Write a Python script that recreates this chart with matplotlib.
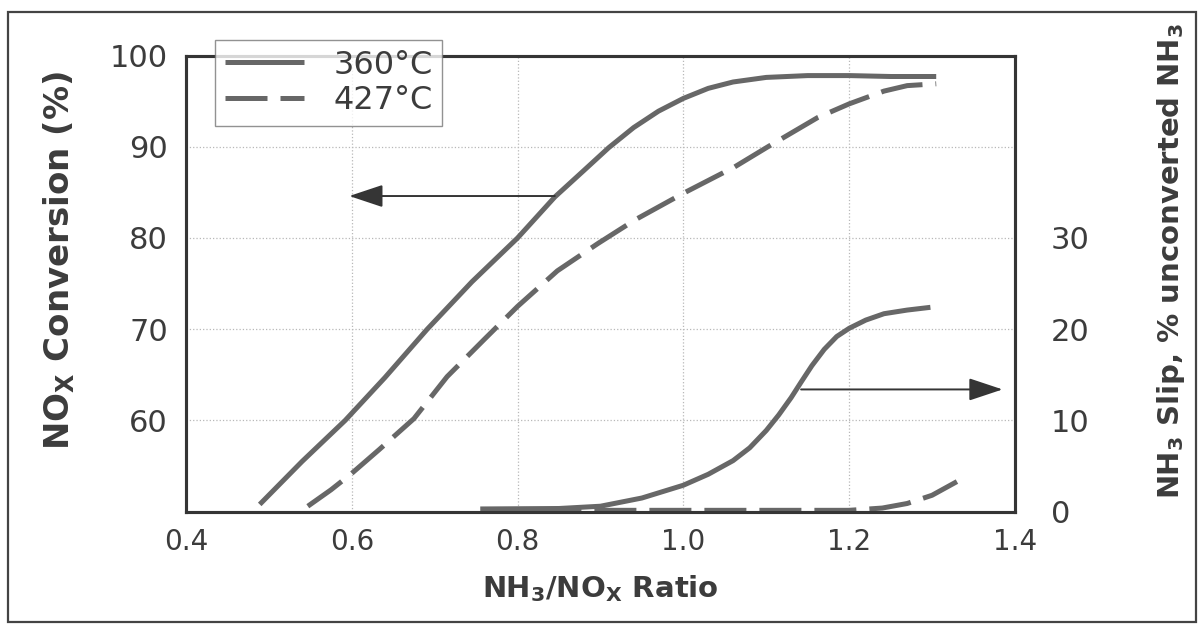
import matplotlib
matplotlib.use('Agg')
import matplotlib.pyplot as plt
from matplotlib.patches import Rectangle

# NOx conversion (%) vs NH3/NOx ratio, left axis
ratio_360 = [0.489, 0.54, 0.592, 0.64, 0.691, 0.745, 0.80, 0.845, 0.88, 0.91,
             0.94, 0.97, 1.00, 1.03, 1.06, 1.10, 1.15, 1.20, 1.25, 1.305]
conv_360 = [50.8, 55.5, 60.0, 64.7, 70.0, 75.2, 80.0, 84.5, 87.4, 89.9,
            92.1, 93.9, 95.3, 96.4, 97.1, 97.6, 97.8, 97.8, 97.7, 97.7]

ratio_427 = [0.547, 0.575, 0.60, 0.633, 0.675, 0.715, 0.76, 0.80, 0.848, 0.897,
             0.942, 1.00, 1.062, 1.102, 1.162, 1.20, 1.242, 1.27, 1.305]
conv_427 = [50.6, 52.4, 54.2, 56.8, 60.2, 64.8, 68.9, 72.5, 76.4, 79.4,
            82.0, 84.9, 87.8, 90.0, 93.2, 94.7, 96.1, 96.7, 96.9]

# NH3 slip (% unconverted NH3), right axis
slip_ratio_360 = [0.755, 0.85, 0.90, 0.95, 1.00, 1.03, 1.06, 1.08, 1.10, 1.115,
                  1.13, 1.142, 1.155, 1.17, 1.185, 1.20, 1.22, 1.242, 1.27, 1.298]
slip_360 = [0.3, 0.35, 0.6, 1.5, 2.9, 4.1, 5.6, 7.0, 8.9, 10.6,
            12.5, 14.2, 16.0, 17.8, 19.2, 20.1, 21.0, 21.7, 22.1, 22.4]

slip_ratio_427 = [0.76, 1.00, 1.20, 1.24, 1.27, 1.30, 1.33]
slip_427 = [0.15, 0.15, 0.15, 0.4, 0.9, 1.8, 3.3]

left_ticks = [60, 70, 80, 90, 100]
right_ticks = [0, 10, 20, 30]
x_ticks = [0.4, 0.6, 0.8, 1.0, 1.2, 1.4]
x_tick_labels = ['0.4', '0.6', '0.8', '1.0', '1.2', '1.4']

# arrows pointing to the axis each group belongs to
arrow_conv = ((0.845, 84.6), (0.597, 84.6))
arrow_slip = ((1.142, 13.4), (1.385, 13.4))

line_col = '#676767'
dark = '#353535'
text_col = '#3c3c3c'

plt.rcParams['font.family'] = ['DejaVu Sans']
plt.rcParams['mathtext.fontset'] = 'custom'
plt.rcParams['mathtext.rm'] = 'DejaVu Sans:bold'
plt.rcParams['mathtext.default'] = 'rm'

fig = plt.figure(figsize=(12.02, 6.28), dpi=100)
fig.patches.append(Rectangle((0.0067, 0.0096), 0.988, 0.971, transform=fig.transFigure,
                             fill=False, edgecolor='#444444', linewidth=1.6))

ax = fig.add_axes([0.1547, 0.1852, 0.6897, 0.7264])
ax2 = ax.twinx()

lw = 3.6
dash = (8.4, 2.6)
l1, = ax.plot(ratio_360, conv_360, color=line_col, lw=lw, solid_capstyle='butt', label='360°C')
l2, = ax.plot(ratio_427, conv_427, color=line_col, lw=lw, dashes=dash, label='427°C')
ax2.plot(slip_ratio_360, slip_360, color=line_col, lw=lw, solid_capstyle='butt')
ax2.plot(slip_ratio_427, slip_427, color=line_col, lw=lw, dashes=dash)

ax.set_xlim(0.4, 1.4)
ax.set_ylim(50, 100)
ax2.set_ylim(0, 50)
ax.set_xticks(x_ticks)
ax.set_xticklabels(x_tick_labels)
ax.set_yticks(left_ticks)
ax2.set_yticks(right_ticks)

ax.grid(True, color='#b8b8b8', linestyle=':', linewidth=0.9)
ax.tick_params(axis='y', length=0, pad=13, labelsize=22, labelcolor=text_col)
ax.tick_params(axis='x', length=0, pad=12, labelsize=20, labelcolor=text_col)
ax2.tick_params(axis='y', length=0, pad=26, labelsize=22, labelcolor=text_col)

for a in (ax, ax2):
    for s in a.spines.values():
        s.set_color(dark)
        s.set_linewidth(2.2)

ax.set_xlabel('NH$_3$/NO$_X$ Ratio', fontsize=21, fontweight='bold', color=text_col)
ax.xaxis.set_label_coords(0.5, -0.135)
ax.set_ylabel('NO$_X$ Conversion (%)', fontsize=24.5, fontweight='bold', color=text_col)
ax.yaxis.set_label_coords(-0.131, 0.55)
ax2.set_ylabel('NH$_3$ Slip, % unconverted NH$_3$', fontsize=21, fontweight='bold',
               color=text_col, rotation=90)
ax2.yaxis.set_label_coords(1.169, 0.55)

arrow_kw = dict(arrowstyle='-|>,head_length=2.1,head_width=0.7', color=dark, lw=1.4,
                shrinkA=0, shrinkB=0)
ax.annotate('', xy=arrow_conv[1], xytext=arrow_conv[0], arrowprops=arrow_kw)
ax2.annotate('', xy=arrow_slip[1], xytext=arrow_slip[0], arrowprops=arrow_kw)

leg = ax2.legend(handles=[l1, l2], loc='upper left', bbox_to_anchor=(0.035, 1.034),
                 fontsize=23, frameon=True, fancybox=False, handlelength=2.5,
                 handletextpad=0.9, labelspacing=0.15, borderpad=0.3, borderaxespad=0)
leg.get_frame().set_edgecolor('#777777')
leg.get_frame().set_linewidth(1.0)
for t in leg.get_texts():
    t.set_color(text_col)

fig.savefig('out.png', dpi=100, facecolor='white')
